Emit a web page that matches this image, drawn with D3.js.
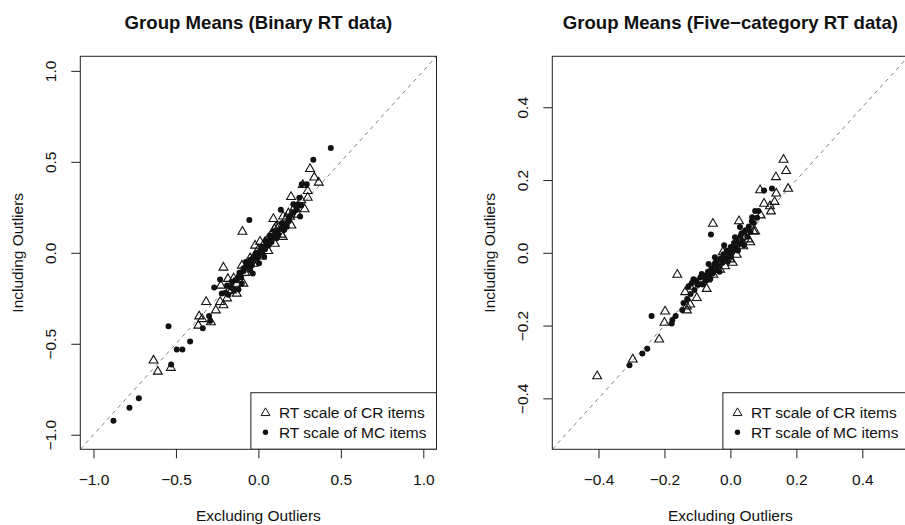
<!DOCTYPE html>
<html>
<head>
<meta charset="utf-8">
<script src="https://cdn.jsdelivr.net/npm/d3@7"></script>
<style>
  body { margin: 0; background: #fff; }
  svg { display: block; font-family: "Liberation Sans", Arial, Helvetica, sans-serif; }
</style>
</head>
<body>
<div id="chart"></div>
<script>
const width = 905;
const height = 525;
const plotTop = 56.3;
const plotBottom = 449.3;
const plotW = 356.2;

// Left panel: binary RT data  [excluding, including]
const binaryCR = [
  [0.313, 0.461], [0.339, 0.414], [0.366, 0.386], [0.269, 0.373], [0.299, 0.340],
  [0.299, 0.303], [0.198, 0.307], [0.091, 0.186], [0.182, 0.217], [0.192, 0.199],
  [0.097, 0.131], [0.148, 0.088], [0.010, 0.061], [-0.097, 0.116], [-0.212, -0.081],
  [-0.185, -0.143], [-0.228, -0.180], [-0.317, -0.270], [-0.232, -0.270], [-0.212, -0.288],
  [-0.258, -0.316], [-0.359, -0.349], [-0.341, -0.364], [-0.288, -0.381], [-0.364, -0.400],
  [-0.636, -0.592], [-0.610, -0.653], [-0.531, -0.632], [-0.131, -0.224], [-0.161, -0.206],
  [-0.091, -0.169], [0.107, 0.143], [-0.040, -0.040],
  [-0.18, -0.21], [-0.15, -0.14], [-0.13, -0.17], [-0.10, -0.07], [-0.08, -0.11],
  [-0.05, -0.03], [-0.03, -0.06], [0.00, 0.02], [0.02, -0.02], [0.04, 0.06],
  [0.06, 0.01], [0.08, 0.10], [0.10, 0.05], [0.12, 0.14], [0.14, 0.10],
  [0.17, 0.19], [0.20, 0.15], [0.22, 0.25], [0.24, 0.21], [0.26, 0.29],
  [0.28, 0.24], [0.06, 0.08], [-0.02, 0.04], [0.15, 0.20], [-0.19, -0.25]
];
const binaryMC = [
  [0.439, 0.576], [0.333, 0.511], [0.263, 0.377], [0.293, 0.377], [0.248, 0.303],
  [0.212, 0.267], [0.242, 0.267], [0.233, 0.236], [0.253, 0.199], [0.136, 0.236],
  [-0.055, 0.180], [0.142, 0.162], [0.156, 0.125], [0.172, 0.143], [0.112, 0.107],
  [0.077, 0.079], [0.051, 0.052], [0.021, 0.033], [0.006, -0.003], [0.035, -0.022],
  [-0.010, -0.031], [0.004, -0.058], [-0.040, -0.058], [-0.076, -0.050], [-0.050, -0.095],
  [-0.034, -0.114], [-0.091, -0.086], [-0.115, -0.110], [-0.232, -0.147], [-0.268, -0.191],
  [-0.131, -0.151], [-0.101, -0.169], [-0.121, -0.202], [-0.182, -0.230], [-0.222, -0.224],
  [-0.299, -0.347], [-0.293, -0.375], [-0.337, -0.415], [-0.545, -0.404], [-0.414, -0.487],
  [-0.461, -0.531], [-0.495, -0.531], [-0.529, -0.614], [-0.725, -0.800], [-0.782, -0.851],
  [-0.879, -0.923],
  [-0.20, -0.22], [-0.17, -0.19], [-0.16, -0.16], [-0.14, -0.15], [-0.12, -0.13],
  [-0.11, -0.12], [-0.09, -0.10], [-0.08, -0.08], [-0.07, -0.07], [-0.06, -0.06],
  [-0.05, -0.04], [-0.03, -0.03], [-0.02, -0.01], [-0.01, 0.00], [0.01, 0.01],
  [0.02, 0.00], [0.03, 0.03], [0.04, 0.02], [0.05, 0.05], [0.06, 0.04],
  [0.07, 0.07], [0.08, 0.06], [0.09, 0.09], [0.10, 0.12], [0.11, 0.08],
  [0.13, 0.13], [0.15, 0.15], [0.17, 0.16], [0.19, 0.20], [0.21, 0.22],
  [0.23, 0.25], [0.26, 0.26], [-0.15, -0.20], [-0.19, -0.18], [0.00, -0.02], [-0.04, -0.07],
  [0.045, 0.065], [0.12, 0.10], [-0.105, -0.135], [0.075, 0.095], [0.185, 0.175]
];

// Right panel: five-category RT data
const fiveCR = [
  [0.161, 0.256], [0.169, 0.225], [0.138, 0.208], [0.090, 0.172], [0.139, 0.163],
  [0.175, 0.176], [0.102, 0.135], [0.120, 0.128], [0.134, 0.140], [0.123, 0.114],
  [0.092, 0.103], [-0.053, 0.080], [0.026, 0.087], [0.075, 0.059], [0.060, 0.029],
  [-0.023, 0.002], [0.007, -0.027], [-0.161, -0.060], [-0.090, -0.073], [-0.122, -0.093],
  [-0.137, -0.108], [-0.072, -0.099], [-0.102, -0.124], [-0.122, -0.142], [-0.132, -0.158],
  [-0.198, -0.161], [-0.200, -0.192], [-0.216, -0.238], [-0.296, -0.293], [-0.404, -0.339],
  [-0.132, -0.147], [0.009, 0.009], [0.019, -0.005], [-0.001, -0.018], [-0.016, -0.037],
  [-0.031, -0.046], [-0.052, -0.060], [-0.072, -0.073], [0.039, 0.018], [0.055, 0.037],
  [0.070, 0.059]
];
const fiveMC = [
  [0.102, 0.171], [0.126, 0.177], [0.075, 0.115], [0.085, 0.115], [0.065, 0.087],
  [0.042, 0.057], [0.029, 0.071], [-0.059, 0.050], [-0.046, -0.027], [-0.112, -0.073],
  [-0.127, -0.092], [-0.097, -0.087], [-0.146, -0.157], [-0.166, -0.174], [-0.176, -0.185],
  [-0.178, -0.194], [-0.239, -0.174], [-0.252, -0.264], [-0.267, -0.277], [-0.306, -0.309],
  [-0.100, -0.088], [-0.091, -0.068], [-0.084, -0.087], [-0.079, -0.063], [-0.074, -0.077],
  [-0.068, -0.052], [-0.064, -0.066], [-0.058, -0.044], [-0.054, -0.057], [-0.049, -0.033],
  [-0.044, -0.047], [-0.041, -0.023], [-0.036, -0.036], [-0.029, -0.016], [-0.024, -0.027],
  [-0.021, -0.004], [-0.014, -0.016], [-0.011, 0.006], [-0.004, -0.006], [0.001, 0.016],
  [0.006, 0.004], [0.011, 0.027], [0.016, 0.013], [0.019, 0.036], [0.026, 0.024],
  [0.031, 0.046], [0.036, 0.033], [0.041, 0.021], [0.046, 0.062], [0.051, 0.044],
  [0.056, 0.072], [0.061, 0.058], [0.071, 0.082], [0.081, 0.096], [-0.109, -0.102],
  [-0.121, -0.113], [-0.131, -0.127], [-0.142, -0.138], [-0.104, -0.076], [-0.066, -0.031],
  [0.002, -0.011], [-0.019, 0.021],
  [-0.087, -0.058], [-0.061, -0.072], [-0.033, -0.052], [-0.008, -0.024], [0.014, 0.043],
  [0.034, 0.054], [-0.117, -0.083], [0.023, 0.006], [-0.047, -0.012], [0.066, 0.098]
];

const tickLeft = [-1, -0.5, 0, 0.5, 1];
const tickRight = [-0.4, -0.2, 0, 0.2, 0.4];
const titles = ['Group Means (Binary RT data)', 'Group Means (Five\u2212category RT data)'];
const xLabel = 'Excluding Outliers';
const yLabel = 'Including Outliers';
const legendLabels = ['RT scale of CR items', 'RT scale of MC items'];

const panels = [
  { id: 'binary', left: 80.3, lim: [-1.08, 1.08], ticks: tickLeft, cr: binaryCR, mc: binaryMC, title: titles[0] },
  { id: 'five', left: 552.3, lim: [-0.54, 0.54], ticks: tickRight, cr: fiveCR, mc: fiveMC, title: titles[1] }
];

const svg = d3.select('#chart')
  .append('svg')
    .attr('width', width)
    .attr('height', height);

svg.append('rect').attr('width', width).attr('height', height).attr('fill', '#fff');

const triangle = d3.symbol().type(d3.symbolTriangle).size(34);

const drawPanel = (p) => {
  const scaleX = d3.scaleLinear().domain(p.lim).range([p.left, p.left + plotW]);
  const scaleY = d3.scaleLinear().domain(p.lim).range([plotBottom, plotTop]);
  const g = svg.append('g').attr('class', `panel-${p.id}`);

  g.append('clipPath')
    .attr('id', `clip-${p.id}`)
  .append('rect')
    .attr('x', p.left)
    .attr('y', plotTop)
    .attr('width', plotW)
    .attr('height', plotBottom - plotTop);

  const inner = g.append('g').attr('clip-path', `url(#clip-${p.id})`);

  // identity line
  inner.append('line')
    .attr('x1', scaleX(p.lim[0]))
    .attr('y1', scaleY(p.lim[0]))
    .attr('x2', scaleX(p.lim[1]))
    .attr('y2', scaleY(p.lim[1]))
    .attr('stroke', '#808080')
    .attr('stroke-width', 1)
    .attr('stroke-dasharray', '4 4');

  inner.append('g')
    .selectAll('path')
    .data(p.cr)
    .join('path')
      .attr('d', triangle)
      .attr('transform', d => `translate(${scaleX(d[0])},${scaleY(d[1])})`)
      .attr('fill', 'none')
      .attr('stroke', '#111')
      .attr('stroke-width', 1.1);

  inner.append('g')
    .selectAll('circle')
    .data(p.mc)
    .join('circle')
      .attr('cx', d => scaleX(d[0]))
      .attr('cy', d => scaleY(d[1]))
      .attr('r', 3)
      .attr('fill', '#111');

  // legend
  const legW = 185.6;
  const legX = p.left + plotW - legW;
  const legend = g.append('g').attr('clip-path', `url(#clip-${p.id})`);
  legend.append('rect')
    .attr('x', legX)
    .attr('y', 392.7)
    .attr('width', legW)
    .attr('height', plotBottom - 392.7)
    .attr('fill', '#fff')
    .attr('stroke', '#222');
  legend.append('path')
    .attr('d', triangle)
    .attr('transform', `translate(${legX + 14.6},413)`)
    .attr('fill', 'none')
    .attr('stroke', '#111');
  legend.append('circle')
    .attr('cx', legX + 14.6)
    .attr('cy', 432.3)
    .attr('r', 2.7)
    .attr('fill', '#111');
  legend.selectAll('text')
    .data(legendLabels)
    .join('text')
      .attr('x', legX + 28)
      .attr('y', (d, i) => i === 0 ? 418 : 437.7)
      .style('font-size', '15.5px')
      .attr('fill', '#111')
      .text(d => d);

  // box
  g.append('rect')
    .attr('x', p.left)
    .attr('y', plotTop)
    .attr('width', plotW)
    .attr('height', plotBottom - plotTop)
    .attr('fill', 'none')
    .attr('stroke', '#222');

  // axes
  const axisBottom = d3.axisBottom(scaleX)
    .tickValues(p.ticks)
    .tickFormat(d3.format('.1f'))
    .tickSize(9)
    .tickSizeOuter(0)
    .tickPadding(16);
  const xAxis = g.append('g')
    .attr('transform', `translate(0,${plotBottom})`)
    .style('font-size', '15.5px')
    .style('font-family', '"Liberation Sans", Arial, sans-serif')
    .call(axisBottom);
  xAxis.select('.domain').remove();
  xAxis.selectAll('line').attr('stroke', '#222');
  xAxis.selectAll('text').attr('fill', '#111');

  const axisLeft = d3.axisLeft(scaleY)
    .tickValues(p.ticks)
    .tickFormat(d3.format('.1f'))
    .tickSize(9)
    .tickSizeOuter(0);
  const yAxis = g.append('g')
    .attr('transform', `translate(${p.left},0)`)
    .style('font-size', '15.5px')
    .style('font-family', '"Liberation Sans", Arial, sans-serif')
    .call(axisLeft);
  yAxis.select('.domain').remove();
  yAxis.selectAll('line').attr('stroke', '#222');
  yAxis.selectAll('text')
    .attr('x', null)
    .attr('dy', null)
    .attr('text-anchor', 'middle')
    .attr('fill', '#111')
    .attr('transform', `translate(-24.3,0) rotate(-90)`);

  // labels
  const midX = p.left + plotW / 2;
  g.append('text')
    .attr('x', midX)
    .attr('y', 29)
    .attr('text-anchor', 'middle')
    .style('font-size', '18.6px')
    .style('font-weight', 700)
    .attr('fill', '#111')
    .text(p.title);
  g.append('text')
    .attr('x', midX)
    .attr('y', 521)
    .attr('text-anchor', 'middle')
    .style('font-size', '15.5px')
    .attr('fill', '#111')
    .text(xLabel);
  g.append('text')
    .attr('transform', `translate(${p.left - 57.3},${(plotTop + plotBottom) / 2}) rotate(-90)`)
    .attr('text-anchor', 'middle')
    .style('font-size', '15.5px')
    .attr('fill', '#111')
    .text(yLabel);
};

panels.forEach(drawPanel);
</script>
</body>
</html>
